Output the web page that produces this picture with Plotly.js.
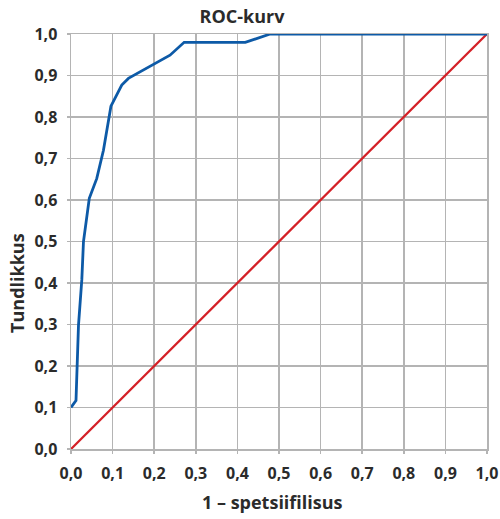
<!DOCTYPE html>
<html><head><meta charset="utf-8">
<script src="https://cdn.plot.ly/plotly-3.0.1.min.js"></script>
<style>html,body{margin:0;padding:0;background:#fff}</style>
</head><body>
<div id="chart" style="width:500px;height:519px"></div>
<script>
const rocX = [0, 0.012, 0.018, 0.026, 0.030, 0.044, 0.062, 0.078, 0.096, 0.122, 0.138, 0.166, 0.198, 0.238, 0.272, 0.419, 0.479, 1.0];
const rocY = [0.10, 0.117, 0.298, 0.408, 0.50, 0.604, 0.652, 0.72, 0.826, 0.877, 0.893, 0.909, 0.927, 0.949, 0.98, 0.98, 1.0, 1.0];
const refX = [0, 1];
const refY = [0, 1];
const tickVals = [0,0.1,0.2,0.3,0.4,0.5,0.6,0.7,0.8,0.9,1.0];
const tickText = ["0,0","0,1","0,2","0,3","0,4","0,5","0,6","0,7","0,8","0,9","1,0"];

const font = "Open Sans, Noto Sans, sans-serif";
const traces = [
  {x: refX, y: refY, mode: 'lines', line: {color: '#d42027', width: 2.3}, hoverinfo: 'skip'},
  {x: rocX, y: rocY, mode: 'lines', line: {color: '#0d5aa7', width: 2.8}, hoverinfo: 'skip'}
];
const axisCommon = {
  range: [0, 1], tickvals: tickVals, ticktext: tickText,
  showgrid: true, gridcolor: '#b4b4b4', gridwidth: 1.5,
  showline: true, linecolor: '#b4b4b4', linewidth: 1.5, mirror: true,
  zeroline: false, ticks: 'outside', ticklen: 3, tickcolor: '#b4b4b4', tickwidth: 1.5,
  tickfont: {family: font, size: 16, color: '#2b2b2b', weight: 'bold'}
};
const layout = {
  width: 500, height: 519,
  margin: {l: 71, r: 13, t: 34, b: 70},
  paper_bgcolor: '#fff', plot_bgcolor: '#fff',
  showlegend: false,
  title: {text: '<b>ROC-kurv</b>', x: 0.484, xanchor: 'center', y: 0.967, yanchor: 'middle',
          font: {family: font, size: 18, color: '#2b2b2b'}},
  xaxis: Object.assign({}, axisCommon, {ticklabelstandoff: 6}),
  yaxis: Object.assign({}, axisCommon, {ticklabelstandoff: 6}),
  annotations: [
    {text: '<b>1 – spetsiifilisus</b>', xref: 'paper', yref: 'paper', x: 0.485, y: -0.128,
     xanchor: 'center', yanchor: 'middle', showarrow: false,
     font: {family: font, size: 18, color: '#2b2b2b'}},
    {text: '<b>Tundlikkus</b>', xref: 'paper', yref: 'paper', x: -0.13, y: 0.4,
     xanchor: 'center', yanchor: 'middle', showarrow: false, textangle: -90,
     font: {family: font, size: 18, color: '#2b2b2b'}}
  ]
};
Plotly.newPlot('chart', traces, layout, {displayModeBar: false, staticPlot: true});
</script>
</body></html>
